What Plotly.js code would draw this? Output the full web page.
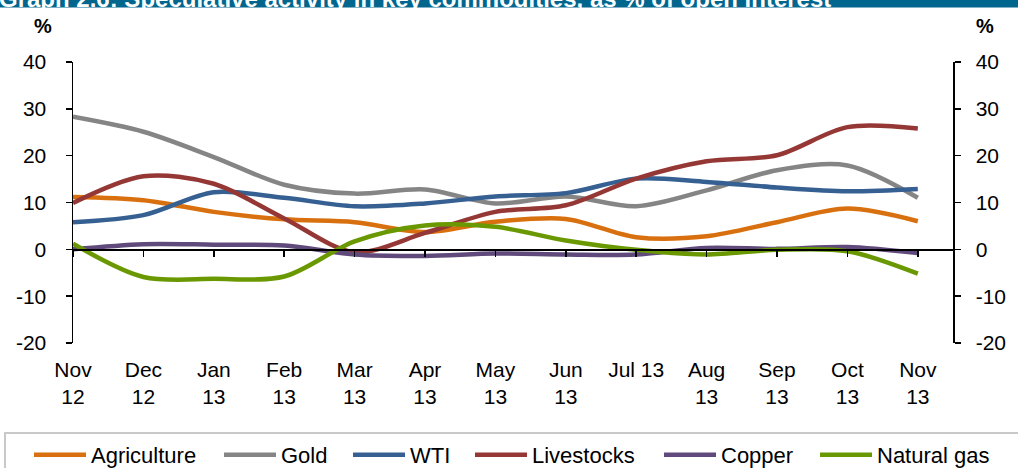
<!DOCTYPE html>
<html>
<head>
<meta charset="utf-8">
<script src="https://cdn.plot.ly/plotly-3.0.1.min.js"></script>
<style>
  html, body { margin: 0; padding: 0; background: #ffffff; }
  #chart { width: 1018px; height: 468px; }
</style>
</head>
<body>
<div id="chart"></div>
<script>
const titleText = 'Graph 2.6: Speculative activity in key commodities, as % of open interest';
const categories = ['Nov<br>12', 'Dec<br>12', 'Jan<br>13', 'Feb<br>13', 'Mar<br>13', 'Apr<br>13', 'May<br>13',
                    'Jun<br>13', 'Jul 13', 'Aug<br>13', 'Sep<br>13', 'Oct<br>13', 'Nov<br>13'];
const agriculture = [11.2, 10.5, 8.0, 6.4, 5.8, 3.7, 5.9, 6.5, 2.6, 2.8, 5.8, 8.7, 6.0];
const gold        = [28.3, 25.1, 19.7, 13.8, 11.9, 12.8, 9.8, 11.3, 9.2, 12.6, 16.9, 17.9, 11.0];
const wti         = [5.8, 7.3, 12.2, 11.0, 9.2, 9.8, 11.3, 12.0, 15.1, 14.4, 13.2, 12.4, 12.9];
const livestocks  = [9.9, 15.6, 14.0, 6.6, -0.6, 3.5, 8.0, 9.4, 15.1, 18.8, 20.1, 26.1, 25.8];
const copper      = [0.0, 1.1, 1.0, 0.8, -1.1, -1.4, -0.9, -1.1, -1.1, 0.3, 0.1, 0.5, -0.8];
const naturalGas  = [1.2, -5.9, -6.3, -5.8, 1.7, 5.1, 4.8, 1.9, -0.1, -1.1, -0.1, -0.4, -5.2];
const yTicks = [-20, -10, 0, 10, 20, 30, 40];

const FONT = 'Liberation Sans, Arial, sans-serif';
const series = [
  {name: 'Agriculture', y: agriculture, color: '#D9700F', xa: 'x',  ya: 'y',  lg: 'legend',  lx: 29},
  {name: 'Gold',        y: gold,        color: '#858585', xa: 'x',  ya: 'y',  lg: 'legend2', lx: 219},
  {name: 'WTI',         y: wti,         color: '#366092', xa: 'x',  ya: 'y',  lg: 'legend3', lx: 348},
  {name: 'Livestocks',  y: livestocks,  color: '#953735', xa: 'x',  ya: 'y2', lg: 'legend4', lx: 470},
  {name: 'Copper',      y: copper,      color: '#604A7B', xa: 'x2', ya: 'y',  lg: 'legend5', lx: 659},
  {name: 'Natural gas', y: naturalGas,  color: '#6A9800', xa: 'x2', ya: 'y',  lg: 'legend6', lx: 815}
];

const traces = series.map(s => ({
  type: 'scatter', mode: 'lines', name: s.name, legend: s.lg,
  x: categories, y: s.y, xaxis: s.xa, yaxis: s.ya,
  line: {color: s.color, width: 4.5, shape: 'spline', smoothing: 0.9},
  hoverinfo: 'x+y+name'
}));

const yBase = {
  range: [-20, 40], tickvals: yTicks, ticktext: yTicks.map(String),
  showgrid: false, ticks: 'outside', ticklen: 6, tickwidth: 1.5, tickcolor: '#000',
  showline: true, linecolor: '#000', linewidth: 1.5,
  tickfont: {family: FONT, size: 21, color: '#000'}, fixedrange: true
};

const layout = {
  width: 1018, height: 468,
  margin: {l: 73, r: 65, t: 62, b: 125},
  paper_bgcolor: '#ffffff', plot_bgcolor: 'rgba(0,0,0,0)',
  font: {family: FONT, size: 21, color: '#000'},
  showlegend: true,
  xaxis: {
    type: 'category', categoryorder: 'array', categoryarray: categories,
    range: [0, 12.5], showgrid: false, zeroline: false, showline: false,
    ticks: '', ticklabelstandoff: 12,
    tickfont: {family: FONT, size: 21, color: '#000'}, fixedrange: true
  },
  xaxis2: {
    type: 'category', categoryorder: 'array', categoryarray: categories,
    matches: 'x', overlaying: 'x', anchor: 'free', position: 1 / 3,
    showgrid: false, zeroline: false, showline: true, linecolor: '#000', linewidth: 1.5,
    ticks: 'outside', ticklen: 6, tickwidth: 1.5, tickcolor: '#000',
    showticklabels: false, fixedrange: true
  },
  yaxis: Object.assign({}, yBase, {side: 'left', ticklabelstandoff: 15, zeroline: false}),
  yaxis2: Object.assign({}, yBase, {side: 'right', overlaying: 'y', matches: 'y', ticklabelstandoff: 11, zeroline: false}),
  shapes: [
    {type: 'rect', xref: 'paper', yref: 'paper', x0: -0.09, x1: 1.08, y0: 1.194, y1: 1.23,
     fillcolor: '#00668E', line: {width: 0}, layer: 'below'},
    {type: 'rect', xref: 'paper', yref: 'paper', x0: -0.0773, x1: 1.08, y0: -0.4875, y1: -0.3203,
     fillcolor: 'rgba(0,0,0,0)', line: {color: '#C8C8C8', width: 2}, layer: 'below'}
  ],
  annotations: [
    {text: titleText, xref: 'paper', yref: 'paper', x: -0.086, xanchor: 'left', y: 1.1708, yanchor: 'bottom',
     showarrow: false, font: {family: FONT, size: 24, color: '#ffffff', weight: 'bold'}},
    {text: '<b>%</b>', xref: 'paper', yref: 'paper', x: -0.034, xanchor: 'center', y: 1.128, yanchor: 'middle',
     showarrow: false, font: {family: FONT, size: 20, color: '#000'}},
    {text: '<b>%</b>', xref: 'paper', yref: 'paper', x: 1.036, xanchor: 'center', y: 1.128, yanchor: 'middle',
     showarrow: false, font: {family: FONT, size: 20, color: '#000'}}
  ]
};

series.forEach(s => {
  layout[s.lg] = {
    orientation: 'h', xref: 'container', yref: 'container',
    x: s.lx / 1018, xanchor: 'left', y: (468 - 455) / 468, yanchor: 'middle',
    bgcolor: 'rgba(0,0,0,0)', borderwidth: 0, itemwidth: 52,
    font: {family: FONT, size: 22, color: '#000'}
  };
});

Plotly.newPlot('chart', traces, layout, {displayModeBar: false, staticPlot: true});
</script>
</body>
</html>
